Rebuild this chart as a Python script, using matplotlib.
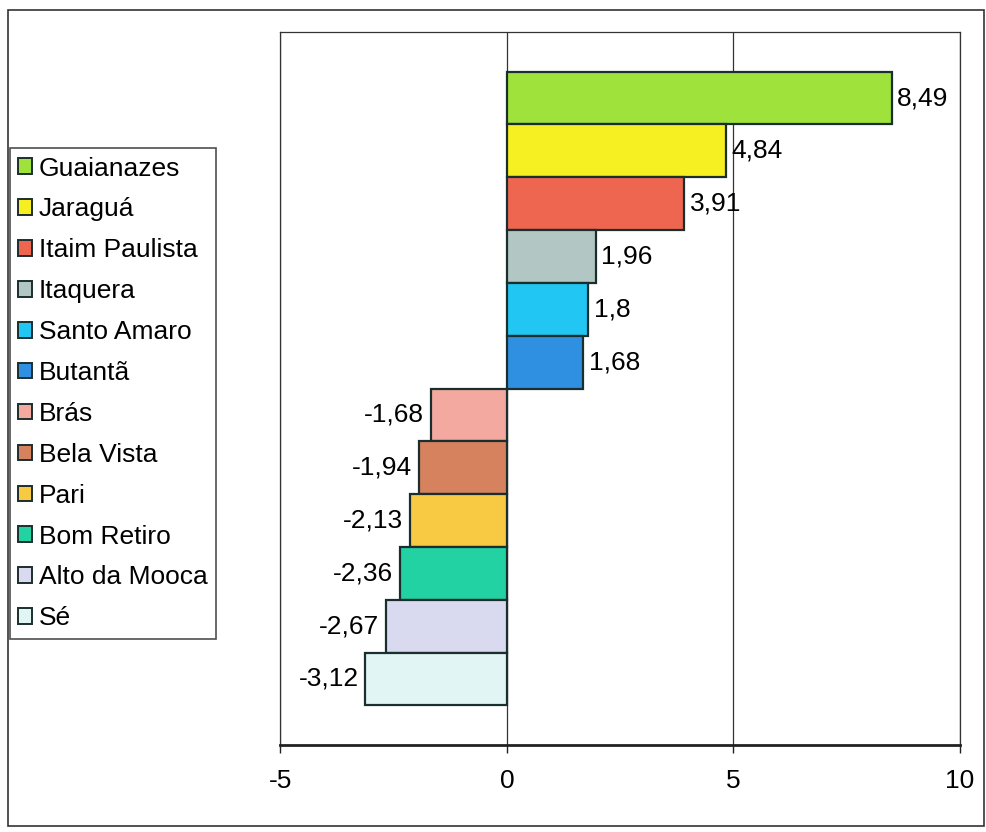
import matplotlib
matplotlib.use("Agg")
import matplotlib.pyplot as plt
from matplotlib.patches import Rectangle

plt.rcParams['font.family'] = ['Liberation Sans', 'DejaVu Sans']

bairros = ["Guaianazes", "Jaraguá", "Itaim Paulista", "Itaquera", "Santo Amaro",
           "Butantã", "Brás", "Bela Vista", "Pari", "Bom Retiro", "Alto da Mooca", "Sé"]
valores = [8.49, 4.84, 3.91, 1.96, 1.8, 1.68, -1.68, -1.94, -2.13, -2.36, -2.67, -3.12]
rotulos = ["8,49", "4,84", "3,91", "1,96", "1,8", "1,68",
           "-1,68", "-1,94", "-2,13", "-2,36", "-2,67", "-3,12"]
cores = ["#9fe23c", "#f6ef22", "#ef6650", "#b2c6c4", "#22c6f2", "#2f8fe0",
         "#f4a9a0", "#d7825f", "#f8c942", "#22d2a2", "#d9d9f0", "#e2f5f5"]
xticks = [-5, 0, 5, 10]

FS = 19

fig = plt.figure(figsize=(9.87, 8.32), dpi=100)
ax = fig.add_axes([0.284, 0.1046, 0.6886, 0.8569])

pos = list(range(len(valores)))
barras = ax.barh(pos, valores, height=1.0, color=cores, edgecolor="#1b2e2e",
                 linewidth=1.6, zorder=3)
for b, lab in zip(barras, bairros):
    b.set_label(lab)

# rotulos de valor
for p, v, t in zip(pos, valores, rotulos):
    if v >= 0:
        ax.annotate(t, (v, p), xytext=(4, 0), textcoords="offset points",
                    ha="left", va="center", fontsize=FS)
    else:
        ax.annotate(t, (v, p), xytext=(-5, 0), textcoords="offset points",
                    ha="right", va="center", fontsize=FS)

ax.set_xlim(-5, 10)
ax.set_ylim(len(valores) - 0.5 + 0.75, -0.5 - 0.75)
ax.set_xticks(xticks)
ax.set_xticklabels([str(x) for x in xticks], fontsize=FS)
ax.set_yticks([])
ax.tick_params(axis="x", direction="out", length=6, width=1, pad=11, color="#222")
ax.grid(axis="x", color="#333", linewidth=0.9, zorder=0)
for s in ["left", "right", "top"]:
    ax.spines[s].set_color("#333")
    ax.spines[s].set_linewidth(0.9)
ax.spines["bottom"].set_linewidth(2)
ax.spines["bottom"].set_color("#222")

leg = fig.legend(handles=barras, labels=bairros, loc="upper left",
                 bbox_to_anchor=(0.0101, 0.822), borderaxespad=0,
                 fontsize=FS, frameon=True, fancybox=False, edgecolor="#222",
                 handlelength=0.53, handleheight=0.53, handletextpad=0.25,
                 labelspacing=0.64, borderpad=0.32)
leg.get_frame().set_linewidth(1.2)
for h in leg.legend_handles:
    h.set_linewidth(1.4)

# moldura externa do grafico
fig.patches.append(Rectangle((8 / 987, 1 - 826 / 832), 976 / 987, 816 / 832,
                             transform=fig.transFigure, fill=False,
                             edgecolor="#333", linewidth=1.2))

fig.savefig("out.png", dpi=100)
